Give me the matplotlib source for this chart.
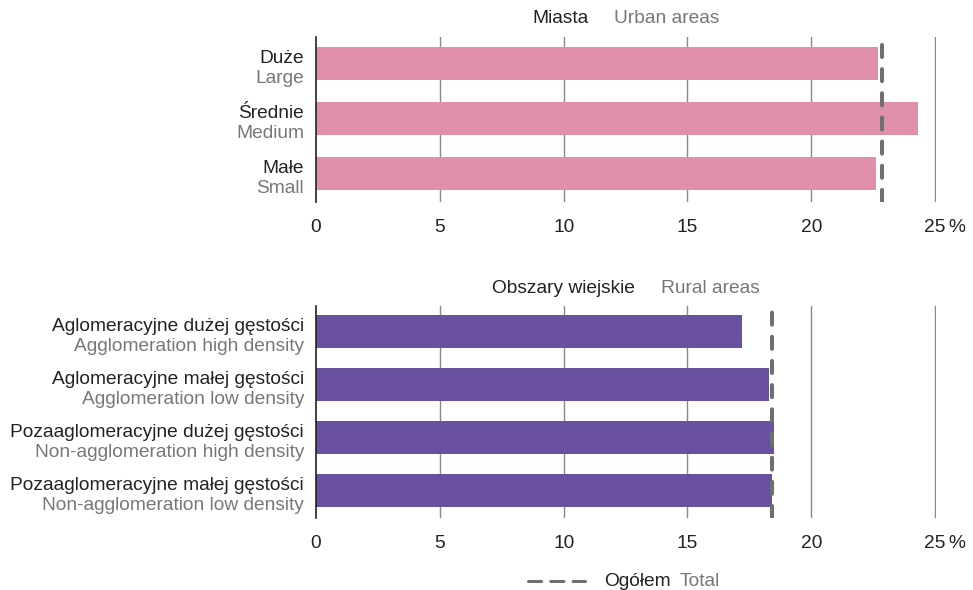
import matplotlib.pyplot as plt
from matplotlib.lines import Line2D

plt.rcParams["font.family"] = ["Liberation Sans", "DejaVu Sans"]

# data
urban_pl = ["Duże", "Średnie", "Małe"]
urban_en = ["Large", "Medium", "Small"]
urban_vals = [22.7, 24.3, 22.6]
urban_total = 22.85

rural_pl = [
    "Aglomeracyjne dużej gęstości",
    "Aglomeracyjne małej gęstości",
    "Pozaaglomeracyjne dużej gęstości",
    "Pozaaglomeracyjne małej gęstości",
]
rural_en = [
    "Agglomeration high density",
    "Agglomeration low density",
    "Non-agglomeration high density",
    "Non-agglomeration low density",
]
rural_vals = [17.2, 18.3, 18.5, 18.4]
rural_total = 18.4

xticks = [0, 5, 10, 15, 20, 25]

DARK = "#222222"
GREY = "#777777"
DASH = "#6f6f6f"
FS = 13.8
PX = 0.72  # points per pixel at dpi 100


def draw_panel(ax, pl, en, vals, total, color, title_pl, title_en, height):
    n = len(vals)
    ypos = list(range(n))
    ax.barh(ypos, vals, height=height, color=color, zorder=2)
    ax.axvline(total, color=DASH, lw=2.9, ls=(0, (3, 3)), zorder=3,
               dash_capstyle="round")
    ax.set_xlim(0, 25.03)
    ax.set_ylim(n - 0.5 + 0.02, -0.5 + 0.02)
    ax.set_xticks(xticks)
    ax.set_xticklabels([str(t) for t in xticks], fontsize=FS, color=DARK)
    ax.tick_params(axis="x", length=0, pad=12)
    ax.set_yticks([])
    for t in xticks[1:]:
        ax.axvline(t, color="#888888", lw=1, zorder=1)
    for s in ["top", "right", "bottom"]:
        ax.spines[s].set_visible(False)
    ax.spines["left"].set_color(DARK)
    ax.spines["left"].set_linewidth(1.2)
    for y, a, b in zip(ypos, pl, en):
        ax.annotate(a, xy=(0, y), xycoords=("axes fraction", "data"),
                    xytext=(-12 * PX, 5 * PX), textcoords="offset points",
                    ha="right", va="center", fontsize=FS, color=DARK)
        ax.annotate(b, xy=(0, y), xycoords=("axes fraction", "data"),
                    xytext=(-12 * PX, -15 * PX), textcoords="offset points",
                    ha="right", va="center", fontsize=FS, color=GREY)
    ax.annotate("%", xy=(25, 0), xycoords=("data", "axes fraction"),
                xytext=(22 * PX, -12), textcoords="offset points",
                ha="center", va="top", fontsize=FS, color=DARK)
    # title: two texts centred as a group with a gap
    t1 = ax.annotate(title_pl, xy=(0.5, 1), xycoords="axes fraction",
                     xytext=(0, 18 * PX), textcoords="offset points",
                     ha="left", va="center", fontsize=FS, color=DARK)
    t2 = ax.annotate(title_en, xy=(0.5, 1), xycoords="axes fraction",
                     xytext=(0, 18 * PX), textcoords="offset points",
                     ha="left", va="center", fontsize=FS, color=GREY)
    return t1, t2


fig = plt.figure(figsize=(9.73, 5.9), dpi=100)
ax1 = fig.add_axes([0.3248, 0.6576, 0.637, 0.2797])
ax2 = fig.add_axes([0.3248, 0.122, 0.637, 0.359])

titles = [
    draw_panel(ax1, urban_pl, urban_en, urban_vals, urban_total, "#e091a9",
               "Miasta", "Urban areas", 0.6),
    draw_panel(ax2, rural_pl, rural_en, rural_vals, rural_total, "#6a51a0",
               "Obszary wiejskie", "Rural areas", 0.63),
]

fig.canvas.draw()
r = fig.canvas.get_renderer()
gap = 26
for t1, t2 in titles:
    w1 = t1.get_window_extent(r).width
    w2 = t2.get_window_extent(r).width
    total_w = w1 + gap + w2
    t1.set_position((-total_w / 2 * PX, 18 * PX))
    t2.set_position(((-total_w / 2 + w1 + gap) * PX, 18 * PX))

# legend
ly = 1 - 581 / 590
fig.add_artist(Line2D([527.5 / 973, 584.5 / 973], [ly, ly], color=DASH,
                      lw=2.2, ls=(0, (4.3, 3)), dash_capstyle="round"))
fig.text(604 / 973, ly, "Ogółem", ha="left", va="center", fontsize=FS,
         color=DARK)
fig.text(680 / 973, ly, "Total", ha="left", va="center", fontsize=FS,
         color=GREY)

fig.savefig("out.png", dpi=100)
